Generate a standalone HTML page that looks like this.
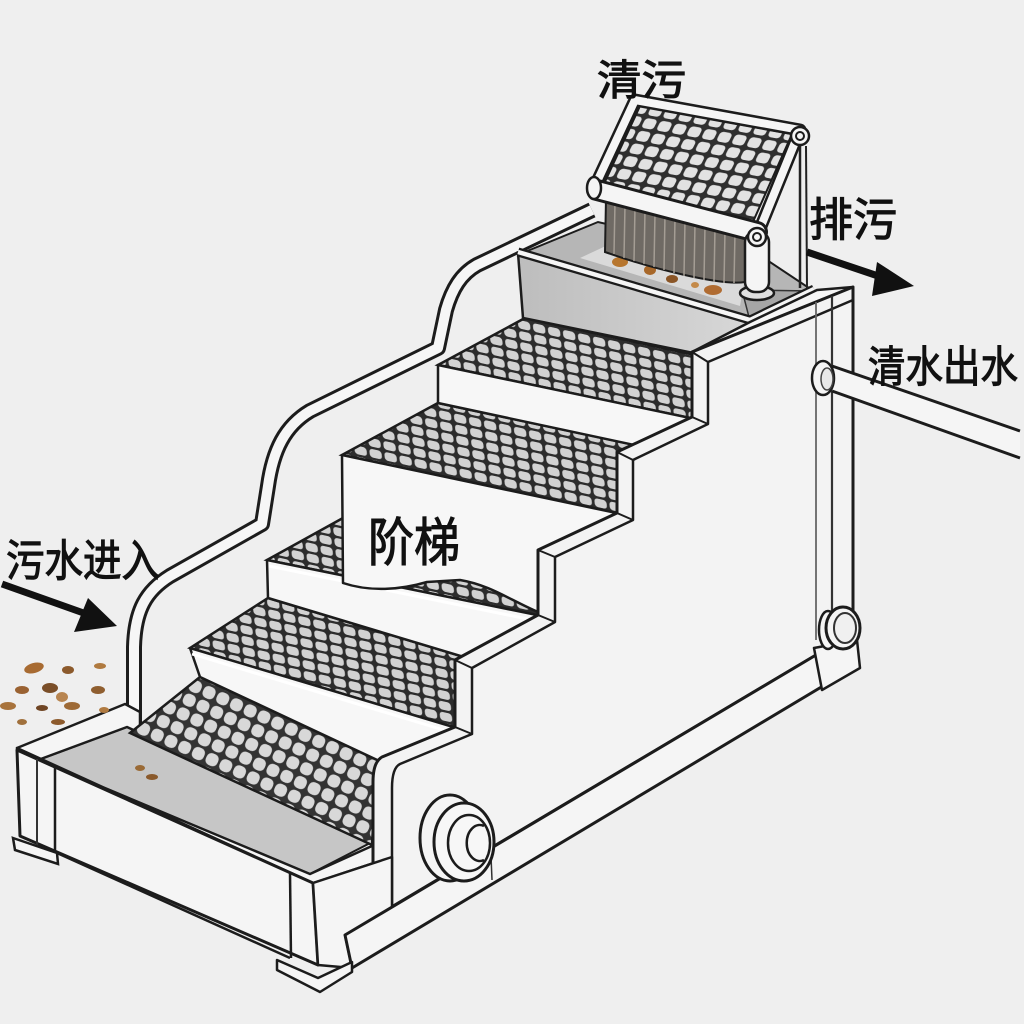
<!DOCTYPE html>
<html><head><meta charset="utf-8"><style>html,body{margin:0;padding:0;background:#efefef}svg{display:block}text{font-family:"Liberation Sans","Noto Sans CJK SC",sans-serif;fill:#111;stroke:#111;stroke-width:1.1}</style></head>
<body>
<svg width="1024" height="1024" viewBox="0 0 1024 1024" xmlns="http://www.w3.org/2000/svg">
<defs>
<pattern id="m1" width="15" height="11" patternUnits="userSpaceOnUse" patternTransform="matrix(1,0.22,0.1,1,0,0)">
<rect width="15" height="11" fill="#2c2c2c"/><rect x="1.6" y="1.4" width="12.2" height="8.6" rx="3.2" fill="#d2d2d2"/></pattern>
<pattern id="m2" width="15" height="15" patternUnits="userSpaceOnUse" patternTransform="rotate(24)">
<rect width="15" height="15" fill="#333"/><rect x="1.5" y="1.5" width="12.5" height="12.5" rx="5" fill="#d8d8d8"/></pattern>
<pattern id="m3" width="15" height="14" patternUnits="userSpaceOnUse" patternTransform="matrix(1,0.18,-0.45,0.9,0,0)">
<rect width="15" height="14" fill="#2f2f2f"/><rect x="1.6" y="1.6" width="12" height="11" rx="3.5" fill="#e2e2e2"/></pattern>
<linearGradient id="tg" x1="0" y1="0" x2="1" y2="0"><stop offset="0" stop-color="#bdbdbd"/><stop offset="1" stop-color="#d8d8d8"/></linearGradient>
</defs>
<rect width="1024" height="1024" fill="#efefef"/>

<!-- left rail -->
<path d="M134,725 L134,647 C135,610 146,591 170,576 L262,524 L268,486 C273,450 285,426 310,411 L438,348 L446,310 C452,289 461,274 477,265 L592,210" fill="none" stroke="#1c1c1c" stroke-width="16" stroke-linejoin="round"/>
<path d="M134,725 L134,647 C135,610 146,591 170,576 L262,524 L268,486 C273,450 285,426 310,411 L438,348 L446,310 C452,289 461,274 477,265 L592,210" fill="none" stroke="#f6f6f6" stroke-width="10" stroke-linejoin="round"/>

<!-- trough -->
<polygon points="38,760 127,727 372,842 310,874" fill="#c6c6c6" stroke="#1c1c1c" stroke-width="2"/>
<polygon points="17,748 125,704 140,712 140,733 127,727 38,760" fill="#f5f5f5" stroke="#1c1c1c" stroke-width="2.5" stroke-linejoin="round"/>
<polygon points="17,748 38,760 310,874 372,846 392,857 313,883" fill="#f5f5f5" stroke="#1c1c1c" stroke-width="2.5" stroke-linejoin="round"/>
<polygon points="17,750 313,883 318,965 20,836" fill="#f5f5f5" stroke="#1c1c1c" stroke-width="3" stroke-linejoin="round"/>
<line x1="37" y1="759" x2="37" y2="845" stroke="#333" stroke-width="2"/>
<line x1="55" y1="767" x2="55" y2="852" stroke="#1c1c1c" stroke-width="2.5"/>
<line x1="290" y1="873" x2="291" y2="958" stroke="#1c1c1c" stroke-width="2.5"/>
<line x1="57" y1="853" x2="290" y2="958" stroke="#1c1c1c" stroke-width="2.5"/>
<polygon points="13,838 57,853 58,864 15,850" fill="#f5f5f5" stroke="#1c1c1c" stroke-width="2.5"/>
<ellipse cx="140" cy="768" rx="5" ry="3" fill="#9a6a36"/><ellipse cx="152" cy="777" rx="6" ry="3" fill="#8a5a2c"/>

<!-- treads and risers -->
<path d="M130,733 L200,677 L390,766 C378,790 373,818 372,845 Z" fill="url(#m2)" stroke="#1c1c1c" stroke-width="2.5"/>
<polygon points="190,648 268,598 640,710 640,783" fill="url(#m1)" stroke="#1c1c1c" stroke-width="2.5"/>
<polygon points="190,648 480,735 480,800 390,766 200,677" fill="#f7f7f7" stroke="#1c1c1c" stroke-width="2.5" stroke-linejoin="round"/>
<line x1="192" y1="654" x2="480" y2="741" stroke="#fff" stroke-width="3"/>
<polygon points="267,560 343,518 640,580 640,636" fill="url(#m1)" stroke="#1c1c1c" stroke-width="2.5"/>
<polygon points="267,560 640,636 640,710 268,598" fill="#f7f7f7" stroke="#1c1c1c" stroke-width="2.5" stroke-linejoin="round"/>
<line x1="269" y1="566" x2="640" y2="642" stroke="#fff" stroke-width="3"/>
<polygon points="342,455 438,403 640,446 640,518" fill="url(#m1)" stroke="#1c1c1c" stroke-width="2.5"/>
<path d="M342,455 L640,518 L640,620 L538,612 C510,600 490,585 460,580 L427,582 C400,590 370,592 343,583 Z" fill="#f7f7f7" stroke="#1c1c1c" stroke-width="2.5" stroke-linejoin="round"/>
<polygon points="438,365 525,318 695,355 695,419" fill="url(#m1)" stroke="#1c1c1c" stroke-width="2.5"/>
<polygon points="438,365 695,419 695,458 438,403" fill="#f7f7f7" stroke="#1c1c1c" stroke-width="2.5" stroke-linejoin="round"/>

<!-- tank -->
<polygon points="520,254 598,222 770,262 812,290 750,321" fill="#b6b6b6" stroke="#1c1c1c" stroke-width="2"/>
<polygon points="580,258 610,244 745,278 740,306" fill="#dadada"/>
<polygon points="742,290 812,291 806,318 750,321" fill="#a6a6a6" stroke="#333" stroke-width="1.5"/>
<ellipse cx="620" cy="262" rx="8" ry="5" fill="#b7762e"/><ellipse cx="650" cy="270" rx="6" ry="5" fill="#a8682a"/>
<ellipse cx="672" cy="279" rx="6" ry="4" fill="#8a5526"/><ellipse cx="713" cy="290" rx="9" ry="5" fill="#b06c32"/>
<ellipse cx="695" cy="285" rx="4" ry="3" fill="#c48a4a"/>
<polygon points="518,253 752,322 752,365 523,318" fill="url(#tg)" stroke="#1c1c1c" stroke-width="2.5"/>
<path d="M518,252 L750,320 L814,289" fill="none" stroke="#1c1c1c" stroke-width="9" stroke-linejoin="round"/>
<path d="M518,252 L750,320 L814,289" fill="none" stroke="#f5f5f5" stroke-width="4.5" stroke-linejoin="round"/>

<!-- right wall -->
<polygon points="692,352 750,322 817,290 853,287" fill="#f5f5f5" stroke="#1c1c1c" stroke-width="2.5" stroke-linejoin="round"/>
<path d="M853,287 L692,352 L692,417 L617,452 L617,513 L538,550 L538,615 L455,660 L455,727 L382,757 Q373,762 373,782 L373,918 L816,655 L853,645 Z" fill="#f3f3f3" stroke="#1c1c1c" stroke-width="3" stroke-linejoin="round"/>
<path d="M853,300 L708,362 L708,424 L633,460 L633,520 L555,557 L555,622 L472,668 L472,734 L400,764 Q392,768 392,788 L392,905" fill="none" stroke="#1c1c1c" stroke-width="2.5" stroke-linejoin="round"/>
<g stroke="#1c1c1c" stroke-width="2">
<line x1="692" y1="352" x2="708" y2="362"/><line x1="692" y1="417" x2="708" y2="424"/>
<line x1="617" y1="452" x2="633" y2="460"/><line x1="617" y1="513" x2="633" y2="520"/>
<line x1="538" y1="550" x2="555" y2="557"/><line x1="538" y1="615" x2="555" y2="622"/>
<line x1="455" y1="660" x2="472" y2="668"/><line x1="455" y1="727" x2="472" y2="734"/>
</g>
<line x1="816" y1="302" x2="816" y2="640" stroke="#666" stroke-width="1.8"/>
<line x1="832" y1="296" x2="832" y2="638" stroke="#333" stroke-width="2.2"/>
<line x1="853" y1="287" x2="853" y2="648" stroke="#1c1c1c" stroke-width="3"/>

<!-- trough right end, rail -->
<polygon points="313,883 392,857 392,910 345,935 352,968 318,965" fill="#f5f5f5" stroke="#1c1c1c" stroke-width="2.5" stroke-linejoin="round"/>
<polygon points="345,935 816,655 823,686 352,968" fill="#f5f5f5" stroke="#1c1c1c" stroke-width="3" stroke-linejoin="round"/>
<polygon points="277,960 318,978 352,962 352,972 320,992 277,970" fill="#f5f5f5" stroke="#1c1c1c" stroke-width="2.5" stroke-linejoin="round"/>
<line x1="491" y1="856" x2="492" y2="880" stroke="#333" stroke-width="1.5"/>
<polygon points="814,648 857,640 860,668 822,690" fill="#f5f5f5" stroke="#1c1c1c" stroke-width="2.5" stroke-linejoin="round"/>

<!-- bottom ring -->
<ellipse cx="450" cy="838" rx="30" ry="43" fill="#f5f5f5" stroke="#1c1c1c" stroke-width="3"/>
<ellipse cx="464" cy="842" rx="30" ry="39" fill="#f7f7f7" stroke="#1c1c1c" stroke-width="3"/>
<ellipse cx="469" cy="843" rx="21" ry="28" fill="#f7f7f7" stroke="#1c1c1c" stroke-width="2.5"/>
<path d="M484,826 A13,18 0 1 0 484,860" fill="none" stroke="#1c1c1c" stroke-width="2.5"/>

<!-- right rings -->
<ellipse cx="828" cy="630" rx="9" ry="19" fill="#f5f5f5" stroke="#1c1c1c" stroke-width="2.5"/>
<ellipse cx="843" cy="628" rx="17" ry="21" fill="#f5f5f5" stroke="#1c1c1c" stroke-width="3"/>
<ellipse cx="845" cy="628" rx="11" ry="15" fill="#f0f0f0" stroke="#333" stroke-width="2"/>

<!-- pipe -->
<polygon points="832,366 1020,431 1020,458 832,391" fill="#f5f5f5"/>
<line x1="832" y1="366" x2="1020" y2="431" stroke="#1c1c1c" stroke-width="3"/>
<line x1="832" y1="391" x2="1020" y2="458" stroke="#1c1c1c" stroke-width="3"/>
<ellipse cx="823" cy="378" rx="11" ry="17" fill="#f5f5f5" stroke="#1c1c1c" stroke-width="2.5"/>
<ellipse cx="827" cy="379" rx="6" ry="11" fill="#e8e8e8" stroke="#444" stroke-width="1.5"/>

<!-- brush mechanism -->
<line x1="800" y1="140" x2="800" y2="288" stroke="#222" stroke-width="2.5"/>
<line x1="806" y1="146" x2="807" y2="288" stroke="#222" stroke-width="2"/>
<path d="M606,198 L747,234 L745,282 C720,286 650,268 605,252 Z" fill="#6f6a64" stroke="#1c1c1c" stroke-width="2"/>
<g stroke="#a49d94" stroke-width="1.5">
<line x1="615" y1="202" x2="614" y2="254"/><line x1="625" y1="205" x2="624" y2="258"/><line x1="635" y1="207" x2="634" y2="261"/>
<line x1="645" y1="210" x2="644" y2="264"/><line x1="655" y1="213" x2="654" y2="267"/><line x1="665" y1="215" x2="664" y2="270"/>
<line x1="675" y1="218" x2="674" y2="273"/><line x1="685" y1="220" x2="684" y2="276"/><line x1="695" y1="223" x2="694" y2="278"/>
<line x1="705" y1="225" x2="704" y2="280"/><line x1="715" y1="228" x2="714" y2="282"/><line x1="725" y1="230" x2="724" y2="283"/>
<line x1="735" y1="232" x2="734" y2="283"/>
</g>
<polygon points="640,106 792,134 752,224 603,186" fill="url(#m3)" stroke="#1c1c1c" stroke-width="2"/>
<path d="M595,186 L635,100 L800,130 L757,236" fill="none" stroke="#1c1c1c" stroke-width="13" stroke-linejoin="round"/>
<path d="M595,186 L635,100 L800,130 L757,236" fill="none" stroke="#f5f5f5" stroke-width="8" stroke-linejoin="round"/>
<path d="M597,190 L757,232" stroke="#1c1c1c" stroke-width="22" stroke-linecap="round"/>
<path d="M597,190 L757,232" stroke="#f5f5f5" stroke-width="16" stroke-linecap="round"/>
<ellipse cx="594" cy="188" rx="7" ry="11" fill="#f5f5f5" stroke="#1c1c1c" stroke-width="2.5"/>
<ellipse cx="757" cy="293" rx="17" ry="7" fill="#e0e0e0" stroke="#1c1c1c" stroke-width="2.5"/>
<rect x="745" y="232" width="24" height="60" rx="10" fill="#f5f5f5" stroke="#1c1c1c" stroke-width="2.5"/>
<circle cx="757" cy="237" r="9" fill="#f5f5f5" stroke="#1c1c1c" stroke-width="2.5"/>
<circle cx="757" cy="237" r="4" fill="none" stroke="#1c1c1c" stroke-width="2"/>
<circle cx="800" cy="136" r="9" fill="#f5f5f5" stroke="#1c1c1c" stroke-width="2.5"/>
<circle cx="800" cy="136" r="4" fill="none" stroke="#1c1c1c" stroke-width="2"/>

<!-- left debris -->
<g>
<ellipse cx="34" cy="668" rx="10" ry="5" fill="#a86b32" transform="rotate(-15 34 668)"/>
<ellipse cx="68" cy="670" rx="6" ry="4" fill="#8c5a2c"/>
<ellipse cx="100" cy="666" rx="6" ry="3" fill="#b07a40"/>
<ellipse cx="22" cy="690" rx="7" ry="4" fill="#9a6232"/>
<ellipse cx="50" cy="688" rx="8" ry="5" fill="#7a4e28"/>
<ellipse cx="62" cy="697" rx="6" ry="5" fill="#b88550"/>
<ellipse cx="98" cy="690" rx="7" ry="4" fill="#8f5e2f"/>
<ellipse cx="8" cy="706" rx="8" ry="4" fill="#a8733c"/>
<ellipse cx="42" cy="708" rx="6" ry="3" fill="#6f4524"/>
<ellipse cx="72" cy="706" rx="8" ry="4" fill="#9e6a36"/>
<ellipse cx="104" cy="710" rx="5" ry="3" fill="#b07a40"/>
<ellipse cx="58" cy="722" rx="7" ry="3" fill="#8c5a2c"/>
<ellipse cx="22" cy="722" rx="5" ry="3" fill="#a0703c"/>
</g>

<!-- arrows -->
<line x1="2" y1="584" x2="92" y2="616" stroke="#111" stroke-width="7"/>
<polygon points="117,626 74,632 88,598" fill="#111"/>
<line x1="807" y1="252" x2="884" y2="278" stroke="#111" stroke-width="7"/>
<polygon points="914,286 877,262 872,296" fill="#111"/>

<!-- labels -->
<text x="597" y="95" font-size="42" textLength="89" lengthAdjust="spacingAndGlyphs">清污</text>
<text x="809" y="236" font-size="46" textLength="88" lengthAdjust="spacingAndGlyphs">排污</text>
<text x="868" y="382" font-size="43" textLength="150" lengthAdjust="spacingAndGlyphs">清水出水</text>
<text x="368" y="561" font-size="52" textLength="92" lengthAdjust="spacingAndGlyphs">阶梯</text>
<text x="6" y="576" font-size="44" textLength="154" lengthAdjust="spacingAndGlyphs">污水进入</text>
</svg>
</body></html>
